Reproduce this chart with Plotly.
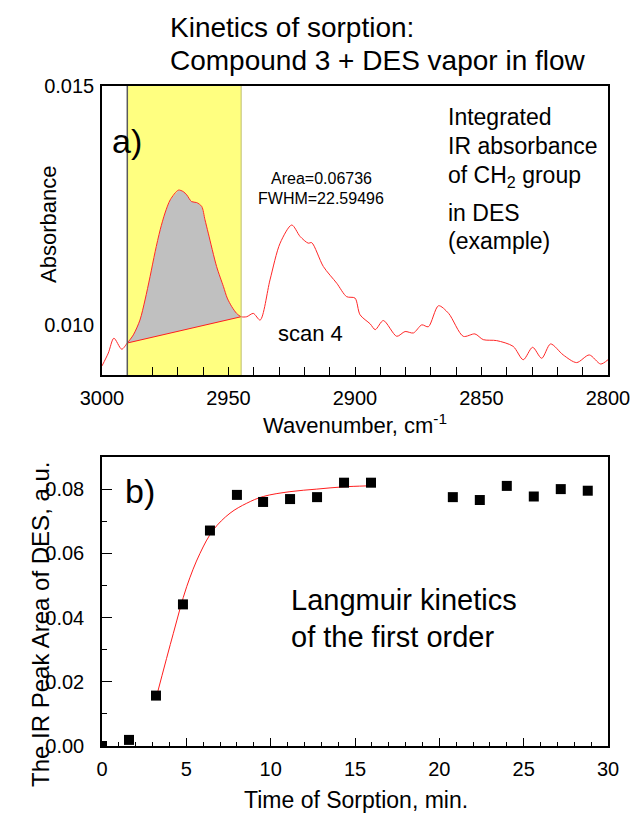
import plotly.graph_objects as go

# ---------------- data: panel a (IR spectrum, scan 4) ----------------
wavenumber = [3000, 2997.5, 2995.3, 2992.2, 2990, 2987.6, 2985, 2983, 2981, 2979, 2977, 2975.1,
              2973, 2969.8, 2967.9, 2966.5, 2964.6, 2962.6, 2960.6, 2959.3, 2958, 2954.7, 2952,
              2950.5, 2948.7, 2946.8, 2945, 2942.8, 2940.2, 2937.5, 2933.6, 2929.6, 2925, 2921.7,
              2918.5, 2917.1, 2912.5, 2907.2, 2903.3, 2900, 2898, 2894, 2892, 2888.8, 2883.5,
              2880.2, 2876.9, 2873.6, 2871, 2867, 2863, 2857.2, 2852.6, 2849.3, 2844, 2837.5,
              2833.5, 2829.8, 2826.2, 2822.7, 2817.7, 2812.4, 2807.4, 2802.9, 2800]
absorbance = [0.00914, 0.00941, 0.00972, 0.00949, 0.00962, 0.00979, 0.01010, 0.01052, 0.01101,
              0.01153, 0.01199, 0.01234, 0.01262, 0.01282, 0.01279, 0.01272, 0.01258, 0.01256,
              0.01248, 0.01220, 0.01192, 0.01122, 0.01080, 0.01056, 0.01038, 0.01024, 0.01017,
              0.01017, 0.01024, 0.01010, 0.01094, 0.01171, 0.01209, 0.01185, 0.01171, 0.01172,
              0.01122, 0.01087, 0.01059, 0.01056, 0.01021, 0.01002, 0.00990, 0.01009, 0.00976,
              0.00986, 0.00983, 0.01000, 0.00996, 0.01040, 0.01024, 0.00976, 0.00981, 0.00969,
              0.00967, 0.00955, 0.00927, 0.00953, 0.00930, 0.00960, 0.00937, 0.00921, 0.00937,
              0.00918, 0.00927]
band_limits = [2990, 2945]            # integration window (yellow band)
baseline_wn = [2990, 2945]
baseline_abs = [0.00962, 0.01017]

# ---------------- data: panel b (kinetics) ----------------
time_min = [0, 1.6, 3.2, 4.8, 6.4, 8.0, 9.55, 11.15, 12.75, 14.35, 15.95,
            20.8, 22.4, 24.0, 25.6, 27.2, 28.8]
peak_area = [0.0, 0.0019, 0.0157, 0.0441, 0.0671, 0.0782, 0.0760, 0.0769, 0.0775, 0.0820,
             0.0820, 0.0775, 0.0766, 0.0810, 0.0777, 0.0800, 0.0795]
fit_time = [3.24, 4.23, 5.02, 5.81, 6.60, 7.59, 8.58, 9.56, 11.14, 12.73, 14.30, 15.70]
fit_area = [0.0156, 0.0351, 0.0496, 0.0600, 0.0673, 0.0725, 0.0756, 0.0777, 0.0792, 0.0800,
            0.0807, 0.0810]

W, H = 632, 813
FONT = "Liberation Sans, Arial, sans-serif"


def px(x):
    return x / W


def py(y):
    return 1 - y / H


fig = go.Figure()

# gray integrated area (spectrum inside window + baseline back)
sub = [(w, a) for w, a in zip(wavenumber, absorbance) if band_limits[1] <= w <= band_limits[0]]
poly_x = [w for w, _ in sub] + baseline_wn[::-1]
poly_y = [a for _, a in sub] + baseline_abs[::-1]
fig.add_trace(go.Scatter(x=poly_x, y=poly_y, mode="lines", fill="toself",
                         fillcolor="rgb(192,192,192)", line=dict(width=0),
                         hoverinfo="skip", showlegend=False, xaxis="x", yaxis="y"))
fig.add_trace(go.Scatter(x=baseline_wn, y=baseline_abs, mode="lines",
                         line=dict(color="rgb(255,30,30)", width=1),
                         showlegend=False, xaxis="x", yaxis="y"))
fig.add_trace(go.Scatter(x=wavenumber, y=absorbance, mode="lines",
                         line=dict(color="rgb(255,40,40)", width=1, shape="spline", smoothing=0.8),
                         showlegend=False, xaxis="x", yaxis="y"))

# panel b
fig.add_trace(go.Scatter(x=fit_time, y=fit_area, mode="lines",
                         line=dict(color="rgb(255,30,30)", width=1, shape="spline"),
                         showlegend=False, xaxis="x2", yaxis="y2"))
fig.add_trace(go.Scatter(x=time_min, y=peak_area, mode="markers",
                         marker=dict(symbol="square", size=10, color="black"),
                         showlegend=False, xaxis="x2", yaxis="y2"))

axis_common = dict(showline=True, linecolor="black", linewidth=1.5, mirror=True,
                   showgrid=False, zeroline=False, automargin=False,
                   tickfont=dict(family=FONT, size=20, color="black"))

xa_dom = [px(102), px(608)]
fig.update_layout(
    template="none",
    width=W, height=H, margin=dict(l=0, r=0, t=0, b=0, pad=0, autoexpand=False),
    paper_bgcolor="white", plot_bgcolor="white",
    font=dict(family=FONT, color="black"),
    xaxis=dict(domain=xa_dom, anchor="y", range=[3000, 2800], dtick=50, tick0=0,
               ticks="inside", ticklen=8, tickcolor="black", tickwidth=1,
               minor=dict(dtick=10, ticks="inside", ticklen=8, tickcolor="black", tickwidth=1),
               ticklabelstandoff=4, **axis_common),
    yaxis=dict(domain=[py(375), py(86)], anchor="x", range=[0.00895, 0.015],
               tickvals=[0.010, 0.015], ticktext=["0.010", "0.015"], ticks="",
               ticklabelstandoff=2, **axis_common),
    xaxis2=dict(domain=xa_dom, anchor="y2", range=[0, 30], dtick=5, tick0=0,
                ticks="inside", ticklen=8, tickcolor="black", tickwidth=1,
                minor=dict(dtick=1, ticks="inside", ticklen=4, tickcolor="black", tickwidth=1),
                ticklabelstandoff=4, **axis_common),
    yaxis2=dict(domain=[py(746), py(457)], anchor="x2", range=[0, 0.09], dtick=0.02, tick0=0,
                tickformat=".2f", ticks="inside", ticklen=10, tickcolor="black", tickwidth=1,
                minor=dict(dtick=0.01, ticks="inside", ticklen=5, tickcolor="black", tickwidth=1),
                ticklabelstandoff=12, **axis_common),
)

# yellow integration window
fig.add_shape(type="rect", xref="x", yref="y domain", x0=band_limits[0], x1=band_limits[1],
              y0=0, y1=1, fillcolor="rgb(255,255,128)", line=dict(width=0), layer="below")
fig.add_shape(type="line", xref="x", yref="y domain", x0=band_limits[0], x1=band_limits[0],
              y0=0, y1=1, line=dict(color="rgb(90,90,90)", width=1.5))
fig.add_shape(type="line", xref="x", yref="y domain", x0=band_limits[1], x1=band_limits[1],
              y0=0, y1=1, line=dict(color="rgb(190,190,110)", width=1))


def txt(text, x, y, size, xanchor="left", angle=0):
    fig.add_annotation(text=text, x=px(x), y=py(y), xref="paper", yref="paper",
                       xanchor=xanchor, yanchor="middle", showarrow=False, textangle=angle,
                       font=dict(family=FONT, size=size, color="black"))


# titles
txt("Kinetics of sorption:", 168, 28, 28)
txt("Compound 3 + DES vapor in flow", 168, 61, 28)

# panel a texts
txt("a)", 110, 141, 34)
txt("Area=0.06736", 321, 178, 16, "center")
txt("FWHM=22.59496", 321, 198, 16, "center")
txt("scan 4", 310, 333, 22, "center")
txt("Integrated", 446, 117, 23)
txt("IR absorbance", 446, 146, 23)
txt("of CH<sub>2</sub> group", 446, 177, 23)
txt("in DES", 446, 213, 23)
txt("(example)", 446, 241, 23)
txt("Wavenumber, cm<sup>-1</sup>", 355, 424, 22, "center")
txt("Absorbance", 48, 225, 22, "center", -90)

# panel b texts
txt("b)", 123, 491, 34)
txt("Langmuir kinetics", 289, 600, 29)
txt("of the first order", 289, 637, 29)
txt("Time of Sorption, min.", 356, 800, 23, "center")
txt("The IR Peak Area of DES, a.u.", 40, 624, 24, "center", -90)

fig.write_html("out.html")
